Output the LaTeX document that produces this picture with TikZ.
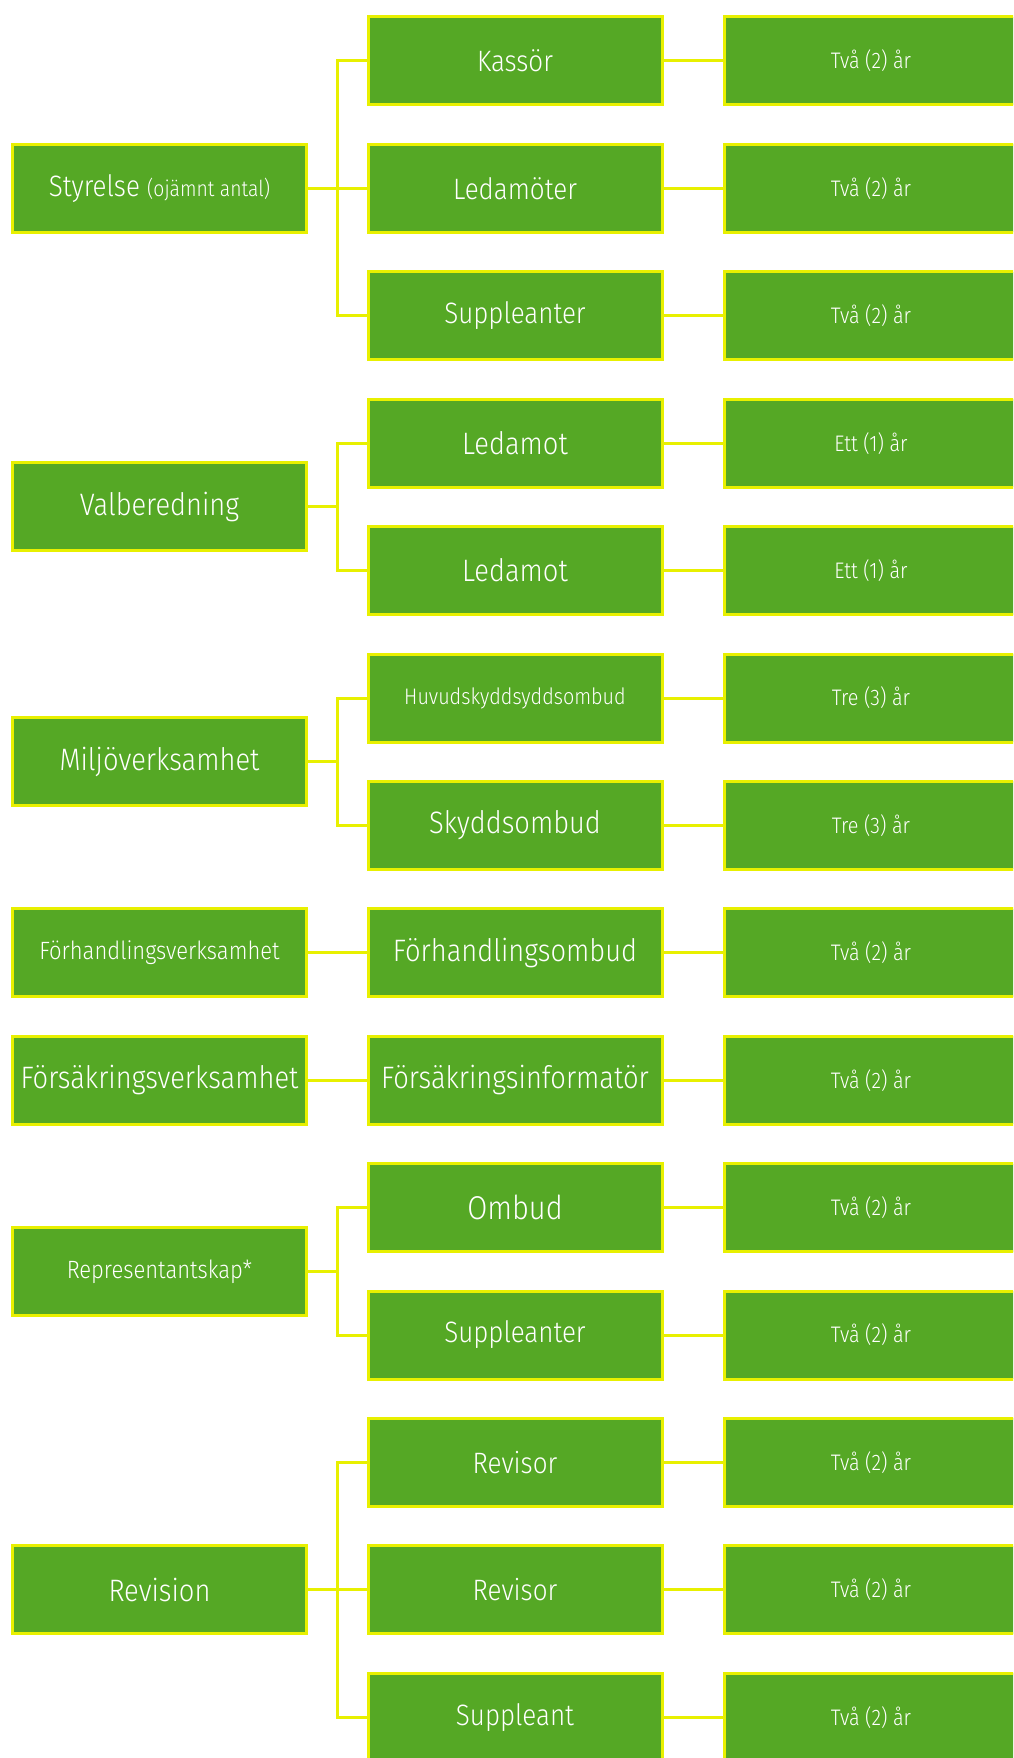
\documentclass[tikz,border=0pt]{standalone}
\usepackage{fontspec}
\setmainfont{Fira Sans Light}[FakeStretch=0.88]
\definecolor{gron}{RGB}{85,168,37}
\definecolor{gul}{RGB}{232,240,0}
\tikzset{
  ruta/.style={rectangle, draw=gul, fill=gron, line width=3pt, text=white,
    minimum width=294pt, minimum height=88pt, inner sep=0pt, align=center},
  stor/.style={ruta, font=\fontsize{31}{33}\selectfont},
  mellan/.style={ruta, font=\fontsize{29.5}{31}\selectfont},
  liten/.style={ruta, font=\fontsize{22.5}{24}\selectfont},
  vliten/.style={ruta, font=\fontsize{25}{27}\selectfont},
  linje/.style={draw=gul, line width=3pt}
}
\begin{document}
\begin{tikzpicture}[x=1pt, y=-1pt]
\useasboundingbox (0,0) rectangle (1013,1758);
\clip (0,0) rectangle (1013,1758);

% Buss
\coordinate (buss) at (337,0);

% Vänster kolumn
\node[mellan] (styr) at (159.5,188.4) {Styrelse {\fontsize{22}{24}\selectfont (ojämnt antal)}};
\node[stor]   (valb) at (159.5,506.9) {Valberedning};
\node[stor]   (milj) at (159.5,761.7) {Miljöverksamhet};
\node[vliten] (forh) at (159.5,952.8) {Förhandlingsverksamhet};
\node[stor]   (fors) at (159.5,1080.2) {Försäkringsverksamhet};
\node[vliten] (repr) at (159.5,1271.3) {Representantskap*};
\node[stor]   (revi) at (159.5,1589.8) {Revision};

% Mittenkolumn
\node[mellan] (kass)  at (515,61)     {Kassör};
\node[mellan] (ledm)  at (515,188.4)  {Ledamöter};
\node[mellan] (supa)  at (515,315.8)  {Suppleanter};
\node[stor]   (leda)  at (515,443.2)  {Ledamot};
\node[stor]   (ledb)  at (515,570.6)  {Ledamot};
\node[liten]  (huvu)  at (515,698)    {Huvudskyddsyddsombud};
\node[stor]   (skyd)  at (515,825.4)  {Skyddsombud};
\node[stor]   (fomb)  at (515,952.8)  {Förhandlingsombud};
\node[stor]   (finf)  at (515,1080.2) {Försäkringsinformatör};
\node[ruta, font=\fontsize{33}{35}\selectfont] (omb) at (515,1207.6) {Ombud};
\node[mellan] (supb)  at (515,1335)   {Suppleanter};
\node[mellan] (reva)  at (515,1462.4) {Revisor};
\node[mellan] (revb)  at (515,1589.8) {Revisor};
\node[mellan] (supc)  at (515,1717.2) {Suppleant};

% Mandattid
\node[liten] (t0)  at (871,61)     {Två (2) år};
\node[liten] (t1)  at (871,188.4)  {Två (2) år};
\node[liten] (t2)  at (871,315.8)  {Två (2) år};
\node[liten] (t3)  at (871,443.2)  {Ett (1) år};
\node[liten] (t4)  at (871,570.6)  {Ett (1) år};
\node[liten] (t5)  at (871,698)    {Tre (3) år};
\node[liten] (t6)  at (871,825.4)  {Tre (3) år};
\node[liten] (t7)  at (871,952.8)  {Två (2) år};
\node[liten] (t8)  at (871,1080.2) {Två (2) år};
\node[liten] (t9)  at (871,1207.6) {Två (2) år};
\node[liten] (t10) at (871,1335)   {Två (2) år};
\node[liten] (t11) at (871,1462.4) {Två (2) år};
\node[liten] (t12) at (871,1589.8) {Två (2) år};
\node[liten] (t13) at (871,1717.2) {Två (2) år};

% Grenar vänster -> mitten
\draw[linje] (styr.east) -- (ledm.west);
\draw[linje] (kass.west) -| (styr.east -| buss) |- (supa.west);
\draw[linje] (valb.east) -- (valb.east -| buss);
\draw[linje] (leda.west) -| (valb.east -| buss) |- (ledb.west);
\draw[linje] (milj.east) -- (milj.east -| buss);
\draw[linje] (huvu.west) -| (milj.east -| buss) |- (skyd.west);
\draw[linje] (forh.east) -- (fomb.west);
\draw[linje] (fors.east) -- (finf.west);
\draw[linje] (repr.east) -- (repr.east -| buss);
\draw[linje] (omb.west) -| (repr.east -| buss) |- (supb.west);
\draw[linje] (revi.east) -- (revb.west);
\draw[linje] (reva.west) -| (revi.east -| buss) |- (supc.west);

% Mitten -> mandattid
\draw[linje] (kass.east) -- (t0.west);
\draw[linje] (ledm.east) -- (t1.west);
\draw[linje] (supa.east) -- (t2.west);
\draw[linje] (leda.east) -- (t3.west);
\draw[linje] (ledb.east) -- (t4.west);
\draw[linje] (huvu.east) -- (t5.west);
\draw[linje] (skyd.east) -- (t6.west);
\draw[linje] (fomb.east) -- (t7.west);
\draw[linje] (finf.east) -- (t8.west);
\draw[linje] (omb.east)  -- (t9.west);
\draw[linje] (supb.east) -- (t10.west);
\draw[linje] (reva.east) -- (t11.west);
\draw[linje] (revb.east) -- (t12.west);
\draw[linje] (supc.east) -- (t13.west);

\end{tikzpicture}
\end{document}
